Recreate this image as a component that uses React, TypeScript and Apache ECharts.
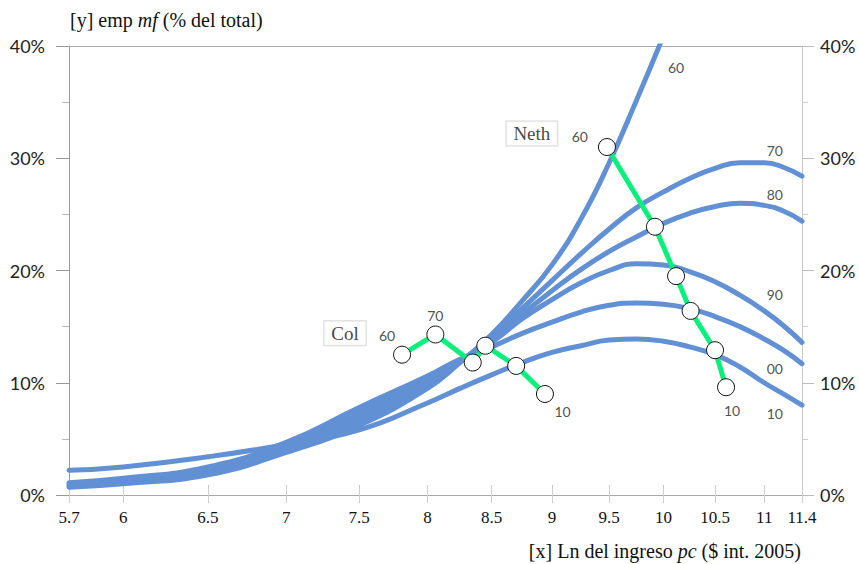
import React, { useEffect, useRef } from 'react';
import * as echarts from 'echarts';

// ---------- data ----------
const X_TICKS = [5.7, 6, 6.5, 7, 7.5, 8, 8.5, 9, 9.5, 10, 10.5, 11, 11.4];
const X_TICK_LABELS = ['5.7', '6', '6.5', '7', '7.5', '8', '8.5', '9', '9.5', '10', '10.5', '11', '11.4'];

const CURVE_X = [5.7, 6, 6.5, 7, 7.5, 8, 8.25, 8.5, 8.75, 9, 9.25, 9.5, 9.75, 10, 10.25, 10.5, 10.75, 11, 11.2, 11.4];
const CURVE_60 = [0.7, 1.0, 1.8, 3.8, 6.2, 9.5, 11.8, 14.3, 17.3, 20.5, 24.6, 29.6, 35.2, 40.9];
const CURVE_70 = [0.8, 1.1, 2.0, 4.0, 6.6, 9.8, 11.9, 14.0, 16.6, 19.1, 21.5, 23.7, 25.6, 27.0, 28.2, 29.1, 29.6, 29.6, 29.2, 28.4];
const CURVE_80 = [0.9, 1.2, 2.2, 4.2, 7.0, 10.0, 11.9, 13.8, 16.1, 18.2, 20.1, 21.7, 23.0, 24.2, 25.1, 25.7, 26.0, 25.8, 25.3, 24.4];
const CURVE_90 = [1.0, 1.3, 2.3, 4.4, 7.4, 10.3, 12.0, 13.6, 15.7, 17.4, 18.9, 20.0, 20.6, 20.5, 19.9, 19.0, 17.8, 16.4, 15.1, 13.6];
const CURVE_00 = [1.1, 1.5, 2.5, 4.7, 7.8, 10.6, 12.1, 13.2, 14.4, 15.4, 16.3, 16.9, 17.1, 17.0, 16.6, 15.9, 15.0, 13.9, 12.9, 11.7];
const CURVE_10 = [2.2, 2.5, 3.4, 4.5, 5.8, 8.2, 9.5, 10.7, 11.8, 12.7, 13.3, 13.8, 13.9, 13.7, 13.2, 12.5, 11.4, 10.0, 9.0, 8.0];
const CURVES = [CURVE_60, CURVE_70, CURVE_80, CURVE_90, CURVE_00, CURVE_10];
const CURVE_NAMES = ['60', '70', '80', '90', '00', '10'];

const COL_X = [7.81, 8.06, 8.35, 8.45, 8.70, 8.94];
const COL_Y = [12.5, 14.3, 11.8, 13.3, 11.5, 9.0];
const NETH_X = [9.48, 9.92, 10.12, 10.26, 10.50, 10.61];
const NETH_Y = [31.0, 23.9, 19.5, 16.4, 12.9, 9.6];

// curve labels (anchor in data coordinates)
const CURVE_LABEL_X = [10.12, 11.11, 11.11, 11.11, 11.11, 11.11];
const CURVE_LABEL_Y = [38.1, 30.7, 26.8, 17.9, 11.3, 7.3];
// year labels next to country points
const POINT_LABEL_TEXT = ['60', '70', '10', '60', '10'];
const POINT_LABEL_X = [7.70, 8.06, 9.09, 9.24, 10.67];
const POINT_LABEL_Y = [14.2, 15.95, 7.4, 31.9, 7.5];
// country boxes
const COUNTRY_NAMES = ['Col', 'Neth'];
const COUNTRY_X = [7.40, 8.83];
const COUNTRY_Y = [14.4, 32.2];

// ---------- helpers ----------
const L = (v: number) => Math.log10(v);
const tickVals = X_TICKS.map(L);
const xFormatter = (val: number) => {
  let best = 0;
  let bd = Infinity;
  tickVals.forEach((t, i) => {
    const d = Math.abs(t - val);
    if (d < bd) { bd = d; best = i; }
  });
  return X_TICK_LABELS[best];
};

const SERIF = 'Liberation Serif';
const SANS = 'Lato';
const BLUE = '#6190d4';
const GREEN = '#08f07c';

export default function App() {
  const ref = useRef<HTMLDivElement>(null);
  useEffect(() => {
    document.body.style.margin = '0';
    const chart = echarts.init(ref.current!, null, { renderer: 'svg' });

    const curveSeries = CURVES.map((c, k) => ({
      type: 'line',
      name: CURVE_NAMES[k],
      xAxisIndex: 0,
      yAxisIndex: 0,
      data: c.map((v, i) => [L(CURVE_X[i]), v]),
      symbol: 'none',
      smooth: 0.5,
      clip: true,
      lineStyle: { color: BLUE, width: 5, cap: 'round' },
      z: 2,
    }));

    const countrySeries = (xs: number[], ys: number[], name: string) => ({
      type: 'line',
      name,
      xAxisIndex: 0,
      yAxisIndex: 0,
      data: xs.map((x, i) => [L(x), ys[i]]),
      symbol: 'circle',
      symbolSize: 17,
      lineStyle: { color: GREEN, width: 5 },
      itemStyle: { color: '#fff', borderColor: '#111', borderWidth: 1 },
      z: 5,
    });

    const annotations: any[] = [];
    CURVE_NAMES.forEach((n, i) => {
      annotations.push({
        value: [L(CURVE_LABEL_X[i]), CURVE_LABEL_Y[i]],
        name: n,
        label: { fontFamily: SANS, fontSize: 14, color: '#222' },
      });
    });
    POINT_LABEL_TEXT.forEach((n, i) => {
      annotations.push({
        value: [L(POINT_LABEL_X[i]), POINT_LABEL_Y[i]],
        name: n,
        label: { fontFamily: SANS, fontSize: 14, color: '#222' },
      });
    });
    COUNTRY_NAMES.forEach((n, i) => {
      annotations.push({
        value: [L(COUNTRY_X[i]), COUNTRY_Y[i]],
        name: n,
        label: {
          fontFamily: SERIF, fontSize: 19, color: '#111',
          borderColor: '#cfcfcf', borderWidth: 1, padding: [3, 7, 2, 7], backgroundColor: '#fff',
        },
      });
    });

    const richTitle = {
      a: { fontFamily: SERIF, fontSize: 20, color: '#111', fontWeight: 'normal' },
      b: { fontFamily: SERIF, fontSize: 20, color: '#111', fontStyle: 'italic', fontWeight: 'normal' },
    };

    const option: any = {
      animation: false,
      backgroundColor: '#fff',
      title: [
        {
          text: '{a|[y] emp }{b|mf}{a| (% del total)}',
          left: 70,
          top: 10,
          padding: 0,
          textStyle: { fontWeight: 'normal', rich: richTitle },
        },
        {
          text: '{a|[x] Ln del ingreso }{b|pc}{a| ($ int. 2005)}',
          right: 58,
          top: 541,
          padding: 0,
          textStyle: { fontWeight: 'normal', rich: richTitle },
        },
      ],
      grid: { left: 69, right: 57, top: 46, bottom: 69, containLabel: false, outerBoundsMode: 'none' },
      xAxis: [
        {
          type: 'value', min: L(5.7), max: L(11.4), position: 'bottom',
          axisLine: { show: true, lineStyle: { color: '#aaa' } },
          axisTick: { show: true, customValues: tickVals, length: 8, lineStyle: { color: '#ccc' } },
          axisLabel: { customValues: tickVals, formatter: xFormatter, margin: 14, fontFamily: SERIF, fontSize: 17, color: '#111' },
          splitLine: { show: false },
        },
        {
          type: 'value', min: L(5.7), max: L(11.4), position: 'bottom',
          axisLine: { show: false },
          axisTick: { show: true, inside: true, customValues: tickVals, length: 10, lineStyle: { color: '#ccc' } },
          axisLabel: { show: false },
          splitLine: { show: false },
        },
        {
          type: 'value', min: L(5.7), max: L(11.4), position: 'top',
          axisLine: { show: true, lineStyle: { color: '#aaa' } },
          axisTick: { show: false },
          axisLabel: { show: false },
          splitLine: { show: false },
        },
      ],
      yAxis: [
        {
          type: 'value', min: 0, max: 40, interval: 10, position: 'left',
          axisLine: { show: true, lineStyle: { color: '#999' } },
          axisTick: { show: true, length: 13, lineStyle: { color: '#999' } },
          minorTick: { show: true, splitNumber: 2, length: 7, lineStyle: { color: '#bbb' } },
          axisLabel: { formatter: '{value}%', margin: 24, fontFamily: SANS, fontSize: 18, color: '#222' },
          splitLine: { show: false },
        },
        {
          type: 'value', min: 0, max: 40, interval: 10, position: 'right',
          axisLine: { show: true, lineStyle: { color: '#c8c8c8' } },
          axisTick: { show: true, length: 12, lineStyle: { color: '#bbb' } },
          minorTick: { show: true, splitNumber: 2, length: 6, lineStyle: { color: '#ccc' } },
          axisLabel: { formatter: '{value}%', margin: 18, fontFamily: SANS, fontSize: 18, color: '#222' },
          splitLine: { show: false },
        },
      ],
      series: [
        ...curveSeries,
        countrySeries(COL_X, COL_Y, 'Col'),
        countrySeries(NETH_X, NETH_Y, 'Neth'),
        {
          type: 'scatter',
          xAxisIndex: 0,
          yAxisIndex: 0,
          data: annotations,
          symbolSize: 0,
          silent: true,
          label: { show: true, position: 'inside', formatter: (p: any) => p.name },
          z: 6,
        },
      ],
    };
    chart.setOption(option);
    return () => chart.dispose();
  }, []);
  return <div ref={ref} style={{ width: 859, height: 564 }} />;
}
